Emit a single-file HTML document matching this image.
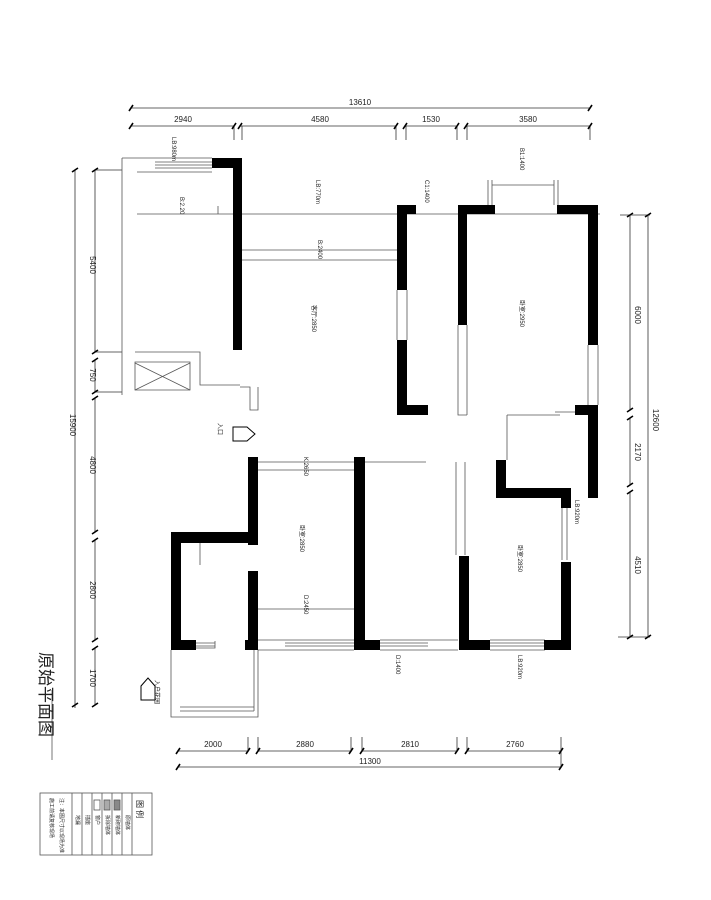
<!DOCTYPE html>
<html><head><meta charset="utf-8"><style>
body{margin:0;background:#fff}
svg{display:block}
text{font-family:"Liberation Sans","Noto Sans CJK SC",sans-serif;fill:#222}
</style></head><body>
<svg width="711" height="900" viewBox="0 0 711 900" xmlns="http://www.w3.org/2000/svg">
<g stroke="#333" stroke-width="0.8" fill="none">
<!-- top dims -->
<line x1="131" y1="108" x2="590" y2="108"/>
<line x1="131" y1="126" x2="234" y2="126"/><line x1="240" y1="126" x2="396" y2="126"/>
<line x1="405" y1="126" x2="456" y2="126"/><line x1="466" y1="126" x2="590" y2="126"/>
<line x1="234" y1="126" x2="234" y2="140"/><line x1="242" y1="126" x2="242" y2="140"/>
<line x1="396" y1="126" x2="396" y2="140"/><line x1="406" y1="126" x2="406" y2="140"/>
<line x1="457" y1="126" x2="457" y2="140"/><line x1="467" y1="126" x2="467" y2="140"/>
<line x1="590" y1="126" x2="590" y2="140"/>
<!-- left dims -->
<line x1="75" y1="170" x2="75" y2="708"/>
<line x1="95" y1="170" x2="95" y2="352"/><line x1="95" y1="360" x2="95" y2="392"/>
<line x1="95" y1="398" x2="95" y2="532"/><line x1="95" y1="540" x2="95" y2="640"/>
<line x1="95" y1="648" x2="95" y2="705"/>
<line x1="95" y1="170" x2="122" y2="170"/><line x1="95" y1="352" x2="122" y2="352"/>
<line x1="95" y1="392" x2="122" y2="392"/>
<!-- right dims -->
<line x1="648" y1="215" x2="648" y2="637"/>
<line x1="630" y1="215" x2="630" y2="410"/><line x1="630" y1="418" x2="630" y2="485"/><line x1="630" y1="492" x2="630" y2="637"/>
<line x1="620" y1="215" x2="650" y2="215"/><line x1="618" y1="637" x2="650" y2="637"/>
<!-- bottom dims -->
<line x1="178" y1="751" x2="248" y2="751"/><line x1="258" y1="751" x2="351" y2="751"/>
<line x1="362" y1="751" x2="457" y2="751"/><line x1="467" y1="751" x2="561" y2="751"/>
<line x1="178" y1="767" x2="561" y2="767"/>
<line x1="248" y1="737" x2="248" y2="752"/><line x1="258" y1="737" x2="258" y2="752"/>
<line x1="351" y1="737" x2="351" y2="752"/><line x1="362" y1="737" x2="362" y2="752"/>
<line x1="457" y1="737" x2="457" y2="752"/><line x1="467" y1="737" x2="467" y2="752"/>
<line x1="561" y1="737" x2="561" y2="767"/>
</g>
<!-- ticks -->
<g stroke="#000" stroke-width="1.6">
<path d="M129 111l4-6M588 111l4-6M129 129l4-6M232 129l4-6M238 129l4-6M394 129l4-6M403 129l4-6M455 129l4-6M464 129l4-6M588 129l4-6"/>
<path d="M72 172l6-4M92 172l6-4M92 354l6-4M92 362l6-4M92 394l6-4M92 400l6-4M92 534l6-4M92 542l6-4M92 642l6-4M92 650l6-4M92 707l6-4M72 707l6-4"/>
<path d="M627 217l6-4M645 217l6-4M627 412l6-4M627 420l6-4M627 487l6-4M627 494l6-4M627 639l6-4M645 639l6-4"/>
<path d="M176 754l4-6M246 754l4-6M256 754l4-6M349 754l4-6M360 754l4-6M455 754l4-6M465 754l4-6M559 754l4-6M176 770l4-6M559 770l4-6"/>
</g>
<!-- thin plan lines -->
<g stroke="#555" stroke-width="0.8" fill="none">
<path d="M122 158H212M122 158V395M137 172H212M155 165H212M155 168H212M155 162H212"/>
<path d="M137 214H600M218 206V214"/>
<path d="M242 250H397M242 260H397"/>
<path d="M135 352H200V385H240M135 362H190V390H135Z"/>
<path d="M135 363L190 390M135 390L190 363"/>
<path d="M240 387H250V410H258V387"/>
<path d="M407 290V340M397 290V340"/>
<path d="M488 180V205M492 180V205M554 180V205M558 180V205M492 185H554"/>
<path d="M458 325V415H467M467 325V415"/>
<path d="M588 345V405M598 345V405"/>
<path d="M507 415V460M507 415H560M555 412H575"/>
<path d="M258 462H354M258 470H354"/>
<path d="M258 609H354M364 462H426M456 462V555M465 462V555"/>
<path d="M181 542H247M200 542V565"/>
<path d="M181 643H193M193 641V648H215V641M196 643H215M196 646H215"/>
<path d="M258 640H354M258 650H354M285 643H354M285 646H354"/>
<path d="M380 640H458M380 650H458M380 643H428M380 646H428"/>
<path d="M490 640H545M490 650H545M490 643H545M490 646H545"/>
<path d="M171 650V717H258V650M180 707H254M180 711H254M254 650V711"/>
<path d="M567 505V560M562 505V560"/>
<path d="M52 690V760"/>
</g>
<!-- walls -->
<g fill="#000">
<rect x="212" y="158" width="30" height="10"/><rect x="233" y="158" width="9" height="192"/>
<rect x="397" y="205" width="19" height="9"/><rect x="397" y="205" width="10" height="85"/>
<rect x="397" y="340" width="10" height="75"/><rect x="397" y="405" width="31" height="10"/>
<rect x="458" y="205" width="37" height="9"/><rect x="458" y="205" width="9" height="120"/>
<rect x="557" y="205" width="41" height="9"/><rect x="588" y="205" width="10" height="140"/>
<rect x="575" y="405" width="23" height="10"/><rect x="588" y="405" width="10" height="93"/>
<rect x="496" y="460" width="10" height="38"/><rect x="496" y="488" width="75" height="10"/>
<rect x="561" y="488" width="10" height="20"/>
<rect x="561" y="562" width="10" height="88"/><rect x="544" y="640" width="27" height="10"/>
<rect x="459" y="556" width="10" height="94"/><rect x="459" y="640" width="31" height="10"/>
<rect x="354" y="457" width="11" height="193"/><rect x="354" y="640" width="26" height="10"/>
<rect x="248" y="457" width="10" height="88"/><rect x="171" y="532" width="87" height="11"/>
<rect x="171" y="532" width="10" height="118"/><rect x="171" y="640" width="25" height="10"/>
<rect x="248" y="571" width="10" height="79"/><rect x="245" y="640" width="13" height="10"/>
</g>
<!-- entrance arrows -->
<g stroke="#000" stroke-width="1" fill="#fff">
<path d="M233 427h14l8 7-8 7h-14z"/><path d="M138 683h14l8 7-8 7h-14z" transform="rotate(-90 148 690)"/>
</g>
<!-- dimension labels -->
<g font-size="8" text-anchor="middle">
<text x="360" y="105">13610</text>
<text x="183" y="122">2940</text><text x="320" y="122">4580</text>
<text x="431" y="122">1530</text><text x="528" y="122">3580</text>
<text x="213" y="747">2000</text><text x="305" y="747">2880</text>
<text x="410" y="747">2810</text><text x="515" y="747">2760</text>
<text x="370" y="764">11300</text>
<text transform="translate(90,265) rotate(90)">5400</text>
<text transform="translate(90,375) rotate(90)">750</text>
<text transform="translate(90,465) rotate(90)">4800</text>
<text transform="translate(90,590) rotate(90)">2800</text>
<text transform="translate(90,678) rotate(90)">1700</text>
<text transform="translate(70,425) rotate(90)">15900</text>
<text transform="translate(635,315) rotate(90)">6000</text>
<text transform="translate(635,452) rotate(90)">2170</text>
<text transform="translate(635,565) rotate(90)">4510</text>
<text transform="translate(653,420) rotate(90)">12600</text>
</g>
<g font-size="6">
<text transform="translate(312,305) rotate(90)">客厅:2850</text>
<text transform="translate(520,300) rotate(90)">卧室:2950</text>
<text transform="translate(300,525) rotate(90)">卧室:2850</text>
<text transform="translate(518,545) rotate(90)">卧室:2850</text>
<text transform="translate(318,240) rotate(90)">B:2400</text>
<text transform="translate(180,197) rotate(90)">B:2.20</text>
<text transform="translate(304,457) rotate(90)">K:2650</text>
<text transform="translate(304,595) rotate(90)">D:2450</text>
<text transform="translate(316,180) rotate(90)">LB:770m</text>
<text transform="translate(172,137) rotate(90)">LB:980m</text>
<text transform="translate(425,180) rotate(90)">C1:1400</text>
<text transform="translate(520,148) rotate(90)">B1:1400</text>
<text transform="translate(575,500) rotate(90)">LB:920m</text>
<text transform="translate(396,655) rotate(90)">D:1400</text>
<text transform="translate(518,655) rotate(90)">LB:920m</text>
<text transform="translate(218,423) rotate(90)">入口</text>
<text transform="translate(155,680) rotate(90)">入户花园</text>
</g>
<text transform="translate(40,652) rotate(90)" font-size="17" fill="#333">原始平面图</text>
<!-- legend -->
<g stroke="#555" stroke-width="0.8" fill="none">
<rect x="40" y="793" width="112" height="62"/>
<path d="M132 793V855M122 793V855M112 793V855M102 793V855M92 793V855M82 793V855M72 793V855"/>
<rect x="114" y="800" width="6" height="10" fill="#888"/><rect x="104" y="800" width="6" height="10" fill="#aaa"/>
<rect x="94" y="800" width="6" height="10"/>
</g>
<g font-size="5">
<text transform="translate(137,800) rotate(90)" font-size="8">图 例</text>
<text transform="translate(126,815) rotate(90)">原墙体</text>
<text transform="translate(116,815) rotate(90)">新砌墙体</text>
<text transform="translate(106,815) rotate(90)">拆除墙体</text>
<text transform="translate(96,815) rotate(90)">窗户</text>
<text transform="translate(86,815) rotate(90)">插座</text>
<text transform="translate(76,815) rotate(90)">地漏</text>
<text transform="translate(60,798) rotate(90)">注：本图尺寸以现场为准</text>
<text transform="translate(50,798) rotate(90)">施工前请复核现场</text>
</g>
</svg>
</body></html>
